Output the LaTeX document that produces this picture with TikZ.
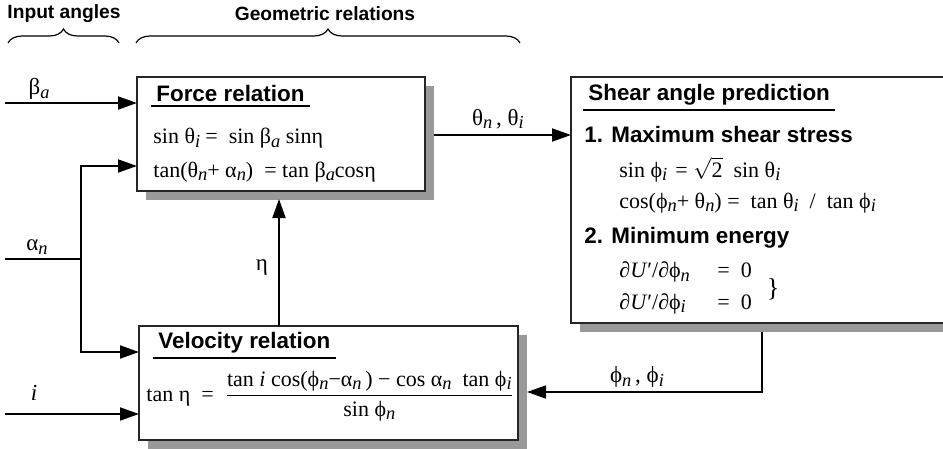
\documentclass[tikz,border=0pt]{standalone}
\usepackage{fontspec}
\usepackage{amsmath}
\setmainfont{Liberation Serif}
\setsansfont{Liberation Sans}
\usetikzlibrary{arrows.meta,shadows,decorations.pathreplacing}

\newcommand{\lo}[1]{\raisebox{-0.35ex}{\fontsize{9.2}{10}\selectfont\itshape #1}}

\begin{document}
\begin{tikzpicture}[x=0.5pt, y=-0.5pt,
  box/.style={draw=black!85, line width=0.6pt, fill=white, inner sep=0pt, outer sep=0pt,
    drop shadow={shadow xshift=4.5pt, shadow yshift=-4.5pt, fill=black!40, opacity=1}},
  head/.style={font=\sffamily\bfseries\fontsize{9.6}{11}\selectfont},
  title/.style={font=\sffamily\bfseries\fontsize{11.2}{13}\selectfont, anchor=south west,
    inner xsep=2.5pt, inner ysep=2pt},
  sub/.style={font=\sffamily\bfseries\fontsize{11.2}{13}\selectfont, anchor=base west, inner sep=0pt},
  eq/.style={font=\fontsize{11}{13}\selectfont, anchor=base west, inner sep=0pt},
  lbl/.style={font=\fontsize{11.5}{13}\selectfont, inner sep=0pt},
  wire/.style={line width=0.9pt},
  arr/.style={wire, -{Triangle[length=9.5pt, width=6.5pt]}},
  brc/.style={decorate, decoration={brace, amplitude=7pt}, line width=0.6pt}]
\useasboundingbox (0,0) rectangle (943,449);

% headings
\node[head] (inhead) at (64,14) {Input angles};
\node[head] (geohead) at (325,14) {Geometric relations};
\draw[brc] (8,43) -- (119,43);
\draw[brc] (136,43) -- (520,43);

% boxes
\node[box, minimum width=144pt, minimum height=57pt] (force) at (281,134) {};
\node[box, minimum width=194.5pt, minimum height=123pt] (shear) at (765.5,200) {};
\node[box, minimum width=189.5pt, minimum height=57pt] (velocity) at (328.5,383) {};

% force relation
\node[title] (ftitle) at (151,106) {Force relation};
\draw[line width=0.6pt] (ftitle.south west) -- (ftitle.south east);
\node[eq] (feq1) at (153,144) {\makebox[26pt][l]{sin θ\lo{i}}= \ sin β\lo{a} sinη};
\node[eq] (feq2) at (153,177) {tan(θ\lo{n}+ α\lo{n}) \ = tan β\lo{a}cosη};

% shear angle prediction
\node[title] (stitle) at (583,110) {Shear angle prediction};
\draw[line width=0.6pt] (stitle.south west) -- (stitle.south east);
\node[sub] (maxstress) at (584,143) {1. Maximum shear stress};
\node[eq] (seq1) at (619,177) {\makebox[28pt][l]{sin ϕ\lo{i}}= $\sqrt{\mbox{2}}$ \ sin θ\lo{i}};
\node[eq] (seq2) at (619,208) {cos(ϕ\lo{n}+ θ\lo{n}) = \ tan θ\lo{i} \ / \ tan ϕ\lo{i}};
\node[sub] (minenergy) at (584,243) {2. Minimum energy};
\node[eq] (seq3) at (619,278) {\makebox[49pt][l]{∂\textit{U}′/∂ϕ\lo{n}}= \ 0};
\node[eq] (seq4) at (619,309) {\makebox[49pt][l]{∂\textit{U}′/∂ϕ\lo{i}}= \ 0};
\node[lbl, font=\fontsize{13}{15}\selectfont] (sbrace) at (773,289) {\}};

% velocity relation
\node[title] (vtitle) at (153,358) {Velocity relation};
\draw[line width=0.6pt] (vtitle.south west) -- (vtitle.south east);
\node[eq] (veq) at (146,401) {tan η \ = \
  $\dfrac{\mbox{tan \textit{i} cos(ϕ\lo{n}−α\lo{n}\,) − cos α\lo{n} \ tan ϕ\lo{i}}}{\mbox{sin ϕ\lo{n}}}$};

% input angles
\coordinate (beta) at (5,103);
\coordinate (alpha) at (5,259);
\coordinate (split) at (81,259);
\coordinate (alphaF) at (81,166);
\coordinate (alphaV) at (81,352);
\coordinate (iin) at (5,414);
\node[lbl] (betalbl) at (39,89) {β\lo{a}};
\node[lbl] (alphalbl) at (37,247) {α\lo{n}};
\node[lbl] (ilbl) at (34,393) {\textit{i}};
\draw[arr] (beta) -- (beta -| force.west);
\draw[wire] (alpha) -- (split);
\draw[arr] (split) -- (alphaF) -- (alphaF -| force.west);
\draw[arr] (split) -- (alphaV) -- (alphaV -| velocity.west);
\draw[arr] (iin) -- (iin -| velocity.west);

% links between the boxes
\coordinate (thout) at (434,135);
\draw[arr] (thout) -- (thout -| shear.west);
\node[lbl] (thlbl) at (498,119) {θ\lo{n}\,, θ\lo{i}};
\coordinate (etatop) at (279,199);
\draw[arr] (etatop |- velocity.north) -- (etatop);
\node[lbl] (etalbl) at (262,268) {η};
\coordinate (phiout) at (762,332);
\coordinate (phibend) at (762,392);
\coordinate (phiin) at (527,392);
\draw[arr] (phiout) -- (phibend) -- (phiin);
\node[lbl] (philbl) at (637,377) {ϕ\lo{n}\,, ϕ\lo{i}};
\end{tikzpicture}
\end{document}
